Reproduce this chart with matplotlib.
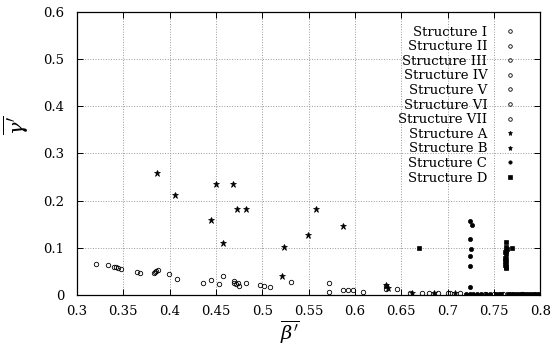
import matplotlib
matplotlib.use("Agg")
import matplotlib.pyplot as plt

plt.rcParams['font.family'] = ['DejaVu Serif']
plt.rcParams['mathtext.fontset'] = 'dejavuserif'

# structures I - VII (open symbols), A - D (filled symbols)
s1_x = [0.320, 0.365, 0.436, 0.531, 0.587, 0.645, 0.700]
s1_y = [0.066, 0.048, 0.026, 0.028, 0.010, 0.012, 0.004]
s2_x = [0.333, 0.368, 0.445, 0.508, 0.572, 0.593, 0.680]
s2_y = [0.064, 0.047, 0.032, 0.016, 0.025, 0.010, 0.003]
s3_x = [0.348, 0.383, 0.453, 0.482, 0.572, 0.598, 0.690]
s3_y = [0.055, 0.046, 0.023, 0.025, 0.007, 0.010, 0.003]
s4_x = [0.387, 0.399, 0.458, 0.469, 0.609, 0.672, 0.740]
s4_y = [0.053, 0.044, 0.039, 0.026, 0.005, 0.003, 0.002]
s5_x = [0.385, 0.408, 0.472, 0.475, 0.660, 0.714, 0.750]
s5_y = [0.050, 0.034, 0.022, 0.018, 0.004, 0.003, 0.001]
s6_x = [0.342, 0.344, 0.470, 0.498, 0.502, 0.634, 0.760]
s6_y = [0.058, 0.057, 0.030, 0.020, 0.019, 0.018, 0.001]
s7_x = [0.340, 0.384, 0.474, 0.634, 0.703, 0.780]
s7_y = [0.060, 0.048, 0.025, 0.012, 0.003, 0.001]

sa_x = [0.386, 0.406, 0.450, 0.468, 0.473, 0.482, 0.558, 0.636, 0.662]
sa_y = [0.259, 0.212, 0.235, 0.235, 0.182, 0.182, 0.182, 0.014, 0.003]
sb_x = [0.445, 0.458, 0.521, 0.523, 0.549, 0.587, 0.634, 0.685, 0.708]
sb_y = [0.158, 0.111, 0.040, 0.101, 0.127, 0.147, 0.020, 0.003, 0.004]
sc_x = [0.724, 0.726, 0.724, 0.725, 0.724, 0.724, 0.724, 0.724,
        0.720, 0.728, 0.732, 0.736, 0.742, 0.746, 0.752, 0.756]
sc_y = [0.157, 0.148, 0.118, 0.098, 0.083, 0.061, 0.016, 0.002,
        0.002, 0.002, 0.001, 0.002, 0.001, 0.002, 0.001, 0.002]
sd_x = [0.669, 0.763, 0.763, 0.764, 0.763, 0.762, 0.763, 0.762, 0.763,
        0.762, 0.763, 0.762, 0.763, 0.763, 0.770,
        0.758, 0.765, 0.768, 0.772, 0.776, 0.780, 0.784, 0.788,
        0.792, 0.796, 0.800]
sd_y = [0.099, 0.113, 0.102, 0.098, 0.094, 0.090, 0.086, 0.079, 0.075,
        0.071, 0.067, 0.063, 0.060, 0.057, 0.100,
        0.001, 0.001, 0.002, 0.001, 0.001, 0.002, 0.001, 0.001,
        0.001, 0.002, 0.001]

labels = ['Structure I', 'Structure II', 'Structure III', 'Structure IV',
          'Structure V', 'Structure VI', 'Structure VII', 'Structure A',
          'Structure B', 'Structure C', 'Structure D']
xticks = [0.3, 0.35, 0.4, 0.45, 0.5, 0.55, 0.6, 0.65, 0.7, 0.75, 0.8]
xtick_labels = ['0.3', '0.35', '0.4', '0.45', '0.5', '0.55', '0.6',
                '0.65', '0.7', '0.75', '0.8']
yticks = [0, 0.1, 0.2, 0.3, 0.4, 0.5, 0.6]
ytick_labels = ['0', '0.1', '0.2', '0.3', '0.4', '0.5', '0.6']

fig = plt.figure(figsize=(5.58, 3.51), dpi=100)
ax = fig.add_axes([0.138, 0.16, 0.83, 0.806])

open_sets = [(s1_x, s1_y, 'o'), (s2_x, s2_y, 'o'), (s3_x, s3_y, 'o'),
             (s4_x, s4_y, 'o'), (s5_x, s5_y, 'o'), (s6_x, s6_y, 'o'),
             (s7_x, s7_y, 'o')]
filled_sets = [(sa_x, sa_y, '*'), (sb_x, sb_y, '*'), (sc_x, sc_y, 'o'),
               (sd_x, sd_y, 's')]

for i, (xs, ys, m) in enumerate(open_sets):
    ax.plot(xs, ys, linestyle='none', marker=m, ms=3.2, mfc='none',
            mec='black', mew=0.6, label=labels[i])
for j, (xs, ys, m) in enumerate(filled_sets):
    ms = 4.5 if m == '*' else 3.0
    ax.plot(xs, ys, linestyle='none', marker=m, ms=ms, mfc='black',
            mec='black', mew=0.5, label=labels[7 + j])

ax.set_xlim(0.3, 0.8)
ax.set_ylim(0, 0.6)
ax.set_xticks(xticks)
ax.set_xticklabels(xtick_labels)
ax.set_yticks(yticks)
ax.set_yticklabels(ytick_labels)
ax.tick_params(direction='in', top=True, right=True, length=4, width=0.7,
               labelsize=9.5)
ax.tick_params(axis='y', pad=9)
ax.tick_params(axis='x', pad=7)
ax.grid(True, linestyle=':', color='#999999', linewidth=0.7)
for sp in ax.spines.values():
    sp.set_linewidth(0.9)

ax.set_xlabel(r"$\overline{\beta'}$", fontsize=14)
ax.xaxis.set_label_coords(0.46, -0.085)
ax.set_ylabel(r"$\overline{\gamma'}$", fontsize=15)
ax.yaxis.set_label_coords(-0.1, 0.6)

ax.legend(loc='upper right', bbox_to_anchor=(0.96, 0.97), frameon=False,
          markerfirst=False, handlelength=1.0, handletextpad=1.2,
          labelspacing=0.12, fontsize=9.5, borderaxespad=0.0,
          markerscale=0.8)

fig.savefig('out.png', dpi=100)
